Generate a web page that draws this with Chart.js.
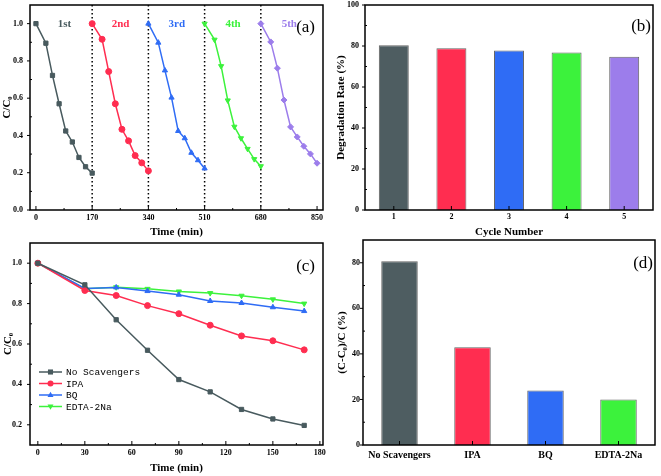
<!DOCTYPE html>
<html>
<head>
<meta charset="utf-8">
<script src="https://cdn.jsdelivr.net/npm/chart.js@4"></script>
<style>
  body { margin: 0; background: #fff; }
  #wrap { position: relative; width: 661px; height: 476px; overflow: hidden; }
  .panel { position: absolute; }
</style>
</head>
<body>
<div id="wrap">
  <div class="panel" style="left:0;top:0;width:330px;height:238px"><canvas id="chartA"></canvas></div>
  <div class="panel" style="left:330px;top:0;width:331px;height:238px"><canvas id="chartB"></canvas></div>
  <div class="panel" style="left:0;top:238px;width:330px;height:238px"><canvas id="chartC"></canvas></div>
  <div class="panel" style="left:330px;top:238px;width:331px;height:238px"><canvas id="chartD"></canvas></div>
</div>
<script>
// ---- data ----
const cycleTimes = [0, 30, 50, 70, 90, 110, 130, 150, 170];
const cycleOffsets = [0, 170, 340, 510, 680];
const cycleNames = ['1st', '2nd', '3rd', '4th', '5th'];
const cycle1 = [1.0, 0.895, 0.722, 0.57, 0.424, 0.365, 0.282, 0.232, 0.198];
const cycle2 = [1.0, 0.916, 0.743, 0.57, 0.433, 0.371, 0.292, 0.253, 0.21];
const cycle3 = [1.0, 0.898, 0.749, 0.603, 0.424, 0.385, 0.307, 0.267, 0.223];
const cycle4 = [1.0, 0.914, 0.772, 0.588, 0.447, 0.385, 0.328, 0.273, 0.235];
const cycle5 = [1.0, 0.902, 0.761, 0.59, 0.446, 0.392, 0.342, 0.301, 0.251];
const timeTicksA = [0, 170, 340, 510, 680, 850];
const ratioTicksA = [0, 0.2, 0.4, 0.6, 0.8, 1.0];

const cycleNumbers = ['1', '2', '3', '4', '5'];
const degradationRate = [80.4, 78.9, 77.8, 76.8, 74.8];
const rateTicks = [0, 20, 40, 60, 80, 100];

const scavengerNames = ['No Scavengers', 'IPA', 'BQ', 'EDTA-2Na'];
const noScavengers = [1.0, 0.893, 0.72, 0.569, 0.424, 0.363, 0.276, 0.229, 0.197];
const ipa = [1.0, 0.865, 0.84, 0.79, 0.75, 0.693, 0.64, 0.616, 0.571];
const bq = [1.0, 0.875, 0.88, 0.862, 0.844, 0.813, 0.803, 0.782, 0.763];
const edta = [1.0, 0.873, 0.881, 0.873, 0.86, 0.852, 0.839, 0.821, 0.80];
const timeTicksC = [0, 30, 60, 90, 120, 150, 180];
const ratioTicksC = [0.2, 0.4, 0.6, 0.8, 1.0];

const scavengerRemoval = [80.7, 42.9, 23.9, 20.0];
const removalTicks = [0, 20, 40, 60, 80];

// ---- look ----
const slate = '#485a5e', red = '#ff2d50', blue = '#2f6cf5', green = '#3cf23c', purple = '#9c7deb';
const seriesColors = [slate, red, blue, green, purple];
const markers = ['rect', 'circle', 'triangle', 'triangle', 'rectRot'];
const rotations = [0, 0, 0, 180, 0];

Chart.defaults.font.family = '"Liberation Serif", "Times New Roman", serif';
Chart.defaults.font.weight = 'bold';
Chart.defaults.color = '#000';
Chart.defaults.animation = false;
Chart.defaults.plugins.legend.display = false;
Chart.defaults.plugins.tooltip.enabled = false;

const fixTicks = list => s => { s.ticks = list.map(v => ({ value: v })); };

function xAxis(type, opts) {
    const ax = {
        type: type,
        grid: { display: false, drawTicks: false },
        border: { display: false },
        ticks: { font: { size: opts.size || 8 }, padding: opts.pad, maxRotation: 0, autoSkip: false },
        afterFit: s => { s.height = opts.height; s.paddingLeft = 0; s.paddingRight = 0; },
        title: { display: !!opts.title, text: opts.title, font: { size: 11, lineHeight: 1 }, padding: { top: 0, bottom: opts.titlePad || 0 } }
    };
    if (type === 'linear') {
        ax.min = opts.min; ax.max = opts.max;
        ax.afterBuildTicks = fixTicks(opts.ticks);
    }
    return ax;
}

function yAxis(opts) {
    return {
        min: opts.min, max: opts.max,
        grid: { display: false, drawTicks: false },
        border: { display: false },
        afterBuildTicks: fixTicks(opts.ticks),
        ticks: { font: { size: 8 }, padding: opts.pad, callback: opts.fmt || (v => v) },
        afterFit: s => { s.width = opts.width; s.paddingTop = 0; s.paddingBottom = 0; },
        title: { display: true, text: opts.title, font: { size: 11, lineHeight: 1 }, padding: { top: opts.titlePad, bottom: 0 } }
    };
}

// box round the plot, with small ticks
const framePlugin = {
    id: 'frame',
    afterDraw(chart) {
        const { ctx, chartArea: a, scales: { x, y } } = chart;
        ctx.save();
        ctx.strokeStyle = '#000';
        ctx.lineWidth = 1;
        ctx.beginPath();
        const xs = x.ticks.map((t, i) => x.getPixelForTick(i));
        xs.forEach(px => { ctx.moveTo(px, a.bottom); ctx.lineTo(px, a.bottom - 4); });
        if (x.type === 'linear') {
            for (let i = 0; i < xs.length - 1; i++) {
                const m = (xs[i] + xs[i + 1]) / 2;
                ctx.moveTo(m, a.bottom); ctx.lineTo(m, a.bottom - 2);
            }
        }
        const ys = y.ticks.map((t, i) => y.getPixelForTick(i));
        ys.forEach(py => { ctx.moveTo(a.left - 3, py); ctx.lineTo(a.left, py); });
        for (let i = 0; i < ys.length - 1; i++) {
            const m = (ys[i] + ys[i + 1]) / 2;
            ctx.moveTo(a.left, m); ctx.lineTo(a.left + 2, m);
        }
        ctx.stroke();
        ctx.lineWidth = 1.5;
        ctx.strokeRect(a.left, a.top, a.width, a.height);
        ctx.restore();
    }
};

// panel letter, e.g. (a)
const tagPlugin = {
    id: 'tag',
    afterDraw(chart, args, opts) {
        const { ctx, chartArea: a } = chart;
        ctx.save();
        ctx.font = 'normal 17px "Liberation Serif", serif';
        ctx.fillStyle = '#000';
        ctx.textAlign = 'right';
        ctx.textBaseline = 'middle';
        ctx.fillText(opts.text, a.right - opts.dx, a.top + opts.dy);
        ctx.restore();
    }
};

// dotted cycle breaks and cycle names for panel (a)
const cyclePlugin = {
    id: 'cycles',
    beforeDatasetsDraw(chart) {
        const { ctx, chartArea: a, scales: { x } } = chart;
        ctx.save();
        ctx.strokeStyle = '#000';
        ctx.lineWidth = 1.5;
        ctx.setLineDash([1.5, 2.5]);
        cycleOffsets.slice(1).forEach(t => {
            const px = x.getPixelForValue(t);
            ctx.beginPath(); ctx.moveTo(px, a.top); ctx.lineTo(px, a.bottom); ctx.stroke();
        });
        ctx.restore();
    },
    afterDatasetsDraw(chart) {
        const { ctx, scales: { x, y } } = chart;
        ctx.save();
        ctx.font = 'bold 11px "Liberation Serif", serif';
        ctx.textAlign = 'center';
        ctx.textBaseline = 'middle';
        cycleNames.forEach((n, i) => {
            ctx.fillStyle = seriesColors[i];
            ctx.fillText(n, x.getPixelForValue(cycleOffsets[i] + 86), y.getPixelForValue(1.0) + 1);
        });
        ctx.restore();
    }
};

function drawMarker(ctx, style, rot, cx, cy, r) {
    ctx.beginPath();
    if (style === 'circle') {
        ctx.arc(cx, cy, r, 0, Math.PI * 2);
    } else if (style === 'rect') {
        ctx.rect(cx - r * 0.85, cy - r * 0.85, r * 1.7, r * 1.7);
    } else if (style === 'triangle') {
        const s = rot === 180 ? -1 : 1;
        ctx.moveTo(cx, cy - s * r * 1.1);
        ctx.lineTo(cx - r, cy + s * r * 0.7);
        ctx.lineTo(cx + r, cy + s * r * 0.7);
        ctx.closePath();
    }
    ctx.fill();
}

// legend drawn inside panel (c)
const legendPlugin = {
    id: 'innerLegend',
    afterDraw(chart) {
        const { ctx, chartArea: a } = chart;
        ctx.save();
        ctx.font = 'normal 9.5px "Liberation Mono", monospace';
        ctx.textBaseline = 'middle';
        chart.data.datasets.forEach((ds, i) => {
            const yy = a.top + 129 + i * 11.5;
            const x0 = a.left + 9, x1 = a.left + 32;
            ctx.strokeStyle = ds.borderColor;
            ctx.fillStyle = ds.borderColor;
            ctx.lineWidth = 1.5;
            ctx.beginPath(); ctx.moveTo(x0, yy); ctx.lineTo(x1, yy); ctx.stroke();
            drawMarker(ctx, ds.pointStyle, ds.pointRotation, (x0 + x1) / 2, yy, 3);
            ctx.fillStyle = '#000';
            ctx.fillText(ds.label, x1 + 4, yy + 0.5);
        });
        ctx.restore();
    }
};

function lineSet(label, xs, ys, i) {
    return {
        label: label,
        data: xs.map((t, j) => ({ x: t, y: ys[j] })),
        borderColor: seriesColors[i],
        backgroundColor: seriesColors[i],
        pointStyle: markers[i],
        pointRotation: rotations[i],
        pointRadius: 3,
        pointBorderWidth: 1,
        borderWidth: 1.5,
        tension: 0
    };
}

// (a) cycling runs
const cycles = [cycle1, cycle2, cycle3, cycle4, cycle5];
new Chart(document.getElementById('chartA'), {
    type: 'line',
    data: {
        datasets: cycles.map((vals, i) =>
            lineSet(cycleNames[i], cycleTimes.map(t => t + cycleOffsets[i]), vals, i))
    },
    options: {
        responsive: true,
        maintainAspectRatio: false,
        layout: { padding: { left: 0, right: 7, top: 4, bottom: 0 } },
        scales: {
            x: xAxis('linear', { min: -18, max: 868, ticks: timeTicksA, pad: 3.5, height: 28, title: 'Time (min)' }),
            y: yAxis({ min: 0, max: 1.1, ticks: ratioTicksA, fmt: v => v.toFixed(1), pad: 7, width: 30, title: 'C/C₀', titlePad: 2 })
        },
        plugins: { tag: { text: '(a)', dx: 8, dy: 23 } }
    },
    plugins: [cyclePlugin, framePlugin, tagPlugin]
});

// (b) degradation rate per cycle
new Chart(document.getElementById('chartB'), {
    type: 'bar',
    data: {
        labels: cycleNumbers,
        datasets: [{
            data: degradationRate,
            backgroundColor: ['#4e5d61', red, blue, green, purple],
            borderColor: 'rgba(60,60,60,0.8)',
            borderWidth: 1,
            barPercentage: 0.52,
            categoryPercentage: 1
        }]
    },
    options: {
        responsive: true,
        maintainAspectRatio: false,
        layout: { padding: { left: 0, right: 8, top: 5, bottom: 0 } },
        scales: {
            x: xAxis('category', { pad: 2, height: 28, title: 'Cycle Number' }),
            y: yAxis({ min: 0, max: 100, ticks: rateTicks, pad: 6, width: 35, title: 'Degradation Rate (%)', titlePad: 5.5 })
        },
        plugins: { tag: { text: '(b)', dx: 2, dy: 22 } }
    },
    plugins: [framePlugin, tagPlugin]
});

// (c) scavenger tests
const scavSeries = [noScavengers, ipa, bq, edta];
new Chart(document.getElementById('chartC'), {
    type: 'line',
    data: {
        datasets: scavSeries.map((vals, i) => lineSet(scavengerNames[i], cycleTimes, vals, i))
    },
    options: {
        responsive: true,
        maintainAspectRatio: false,
        layout: { padding: { left: 0, right: 7, top: 2, bottom: 0 } },
        scales: {
            x: xAxis('linear', { min: -5, max: 182, ticks: timeTicksC, pad: 3, height: 31, title: 'Time (min)', titlePad: 2 }),
            y: yAxis({ min: 0.1, max: 1.1, ticks: ratioTicksC, fmt: v => v.toFixed(1), pad: 8, width: 30, title: 'C/C₀', titlePad: 2.5 })
        },
        plugins: { tag: { text: '(c)', dx: 8, dy: 24 } }
    },
    plugins: [framePlugin, tagPlugin, legendPlugin]
});

// (d) removal with scavengers
new Chart(document.getElementById('chartD'), {
    type: 'bar',
    data: {
        labels: scavengerNames,
        datasets: [{
            data: scavengerRemoval,
            backgroundColor: ['#4e5d61', red, blue, green],
            borderColor: 'rgba(60,60,60,0.8)',
            borderWidth: 1,
            barPercentage: 0.5,
            categoryPercentage: 1
        }]
    },
    options: {
        responsive: true,
        maintainAspectRatio: false,
        layout: { padding: { left: 0, right: 6, top: 2, bottom: 0 } },
        scales: {
            x: xAxis('category', { pad: 4, height: 31, size: 10 }),
            y: yAxis({ min: 0, max: 90, ticks: removalTicks, pad: 3, width: 33, title: '(C-C₀)/C (%)', titlePad: 7 })
        },
        plugins: { tag: { text: '(d)', dx: 2, dy: 24 } }
    },
    plugins: [framePlugin, tagPlugin]
});
</script>
</body>
</html>
